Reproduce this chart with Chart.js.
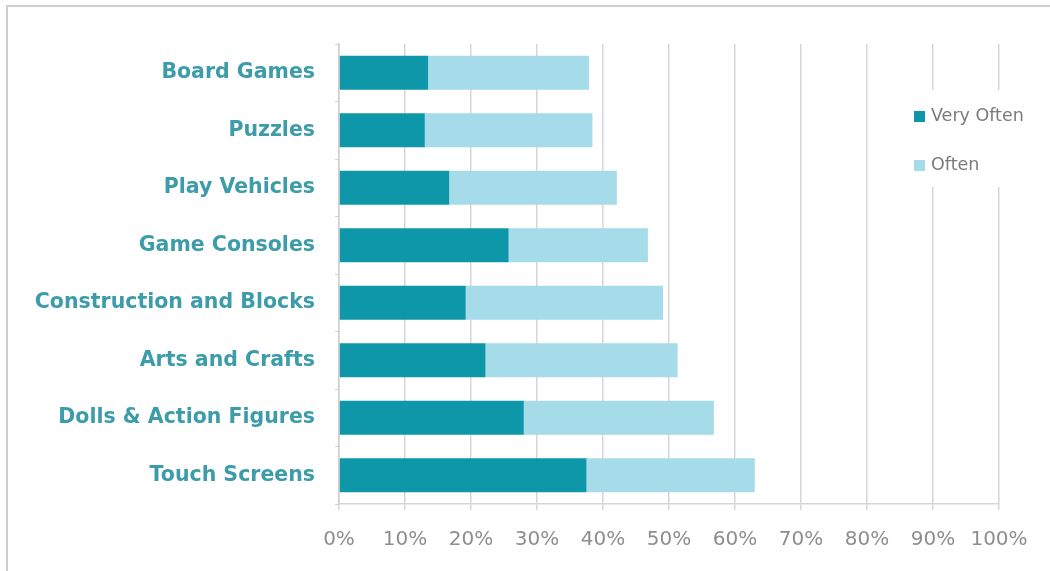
<!DOCTYPE html>
<html>
<head>
<meta charset="utf-8">
<script src="https://cdn.jsdelivr.net/npm/chart.js@4/dist/chart.umd.min.js"></script>
<style>
  html, body { margin: 0; padding: 0; background: #fff; }
  #wrap { position: relative; width: 1050px; height: 571px; overflow: hidden; }
  #frame { position: absolute; left: 6px; top: 5px; width: 1100px; height: 600px;
           border-top: 2px solid #cfcfcf; border-left: 2px solid #cfcfcf; }
  canvas { position: absolute; left: 0; top: 0; }
</style>
</head>
<body>
<div id="wrap">
  <div id="frame"></div>
  <canvas id="toysChart" width="1050" height="571"></canvas>
</div>
<script>
// categories, top to bottom
const toyLabels = ['Board Games', 'Puzzles', 'Play Vehicles', 'Game Consoles',
    'Construction and Blocks', 'Arts and Crafts', 'Dolls & Action Figures', 'Touch Screens'];

// percent of respondents
const veryOften = [13.5, 13.0, 16.7, 25.7, 19.2, 22.2, 28.0, 37.5];
const often = [24.4, 25.4, 25.4, 21.1, 29.9, 29.1, 28.8, 25.5];

const xTicks = [0, 10, 20, 30, 40, 50, 60, 70, 80, 90, 100];

const tealDark = '#0e97a9';
const tealLight = '#a6dbe9';

// legend drawn over the plot, like the original
const sideLegend = {
    id: 'sideLegend',
    afterDraw(chart) {
        const ctx = chart.ctx;
        ctx.save();
        ctx.fillStyle = '#fff';
        ctx.fillRect(905, 90, 140, 97);
        ctx.font = '17.5px "DejaVu Sans", sans-serif';
        ctx.textBaseline = 'middle';
        chart.data.datasets.forEach((ds, i) => {
            const y = 116 + i * 49;
            ctx.fillStyle = ds.backgroundColor;
            ctx.fillRect(914, y - 5, 11, 11);
            ctx.fillStyle = '#7a7a7a';
            ctx.fillText(ds.label, 931, y);
        });
        ctx.restore();
    }
};

const toysChart = new Chart(document.getElementById('toysChart').getContext('2d'), {
    type: 'bar',
    data: {
        labels: toyLabels,
        datasets: [{
            label: 'Very Often',
            data: veryOften,
            backgroundColor: tealDark,
            barPercentage: 0.59,
            categoryPercentage: 1
        }, {
            label: 'Often',
            data: often,
            backgroundColor: tealLight,
            barPercentage: 0.59,
            categoryPercentage: 1
        }]
    },
    options: {
        indexAxis: 'y',
        responsive: false,
        animation: false,
        layout: { padding: { top: 44, right: 51, left: 0, bottom: 0 } },
        scales: {
            x: {
                stacked: true,
                min: 0,
                max: 100,
                afterBuildTicks: (scale) => { scale.ticks = xTicks.map(v => ({ value: v })); },
                afterFit: (scale) => { scale.height = 67; },
                grid: {
                    color: '#d8d5da',
                    lineWidth: 1.5,
                    tickLength: 6
                },
                border: { color: '#d8d5da', width: 1.5 },
                ticks: {
                    callback: (v) => v + '%',
                    color: '#8e8e8e',
                    padding: 18,
                    maxRotation: 0,
                    font: { family: '"DejaVu Sans", sans-serif', size: 20 }
                }
            },
            y: {
                stacked: true,
                afterFit: (scale) => { scale.width = 339; },
                grid: {
                    drawOnChartArea: false,
                    color: '#cfcfcf',
                    tickLength: 4,
                    offset: true
                },
                border: { color: '#d0d0d0', width: 1.5 },
                ticks: {
                    color: '#3c9ca9',
                    padding: 20,
                    font: { family: '"DejaVu Sans", sans-serif', size: 20.5, weight: 'bold' }
                }
            }
        },
        plugins: {
            legend: { display: false },
            tooltip: { enabled: false }
        }
    },
    plugins: [sideLegend]
});
</script>
</body>
</html>
